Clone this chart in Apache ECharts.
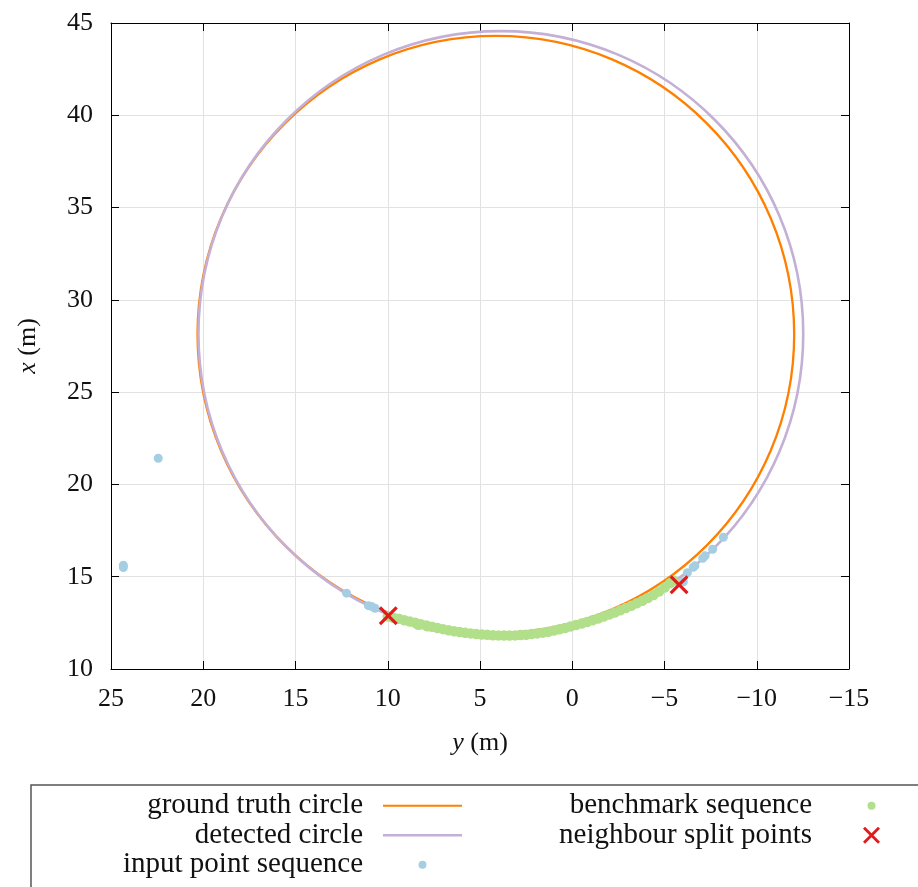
<!DOCTYPE html>
<html><head><meta charset="utf-8">
<script src="https://cdn.jsdelivr.net/npm/echarts@6/dist/echarts.min.js"></script>
<style>html,body{margin:0;padding:0;background:#fff}#c{width:918px;height:887px}</style>
</head><body><div id="c"></div>
<script>
// ---- data (y in m, x in m) ----
const seriesNames = ['ground truth circle', 'detected circle', 'input point sequence', 'benchmark sequence', 'neighbour split points'];
// circles: [center y, center x, radius]
const circleGroundTruth = [4.14, 28.13, 16.17];
const circleDetected = [3.87, 28.17, 16.39];

const inputY = [24.33, 24.33, 22.44, 12.23, 11.05, 10.87, 10.69, -6.02, -6.24, -6.56, -6.65, -7.07, -7.20, -7.61, -8.19];
const inputX = [15.50, 15.62, 21.42, 14.11, 13.43, 13.38, 13.29, 14.73, 15.22, 15.51, 15.59, 16.00, 16.13, 16.49, 17.14];

const benchY = [10.0, 9.7, 9.4, 9.1, 8.8, 8.5, 8.35, 8.2, 7.9, 7.85, 7.6, 7.3, 7.0, 6.7, 6.4, 6.1, 5.8, 5.5, 5.2, 4.9, 4.6, 4.3, 4.0, 3.7, 3.4, 3.1, 2.8, 2.5, 2.2, 1.9, 1.6, 1.3, 1.0, 0.7, 0.4, 0.1, -0.2, -0.5, -0.8, -1.1, -1.4, -1.7, -2.0, -2.3, -2.6, -2.9, -3.2, -3.5, -3.8, -4.1, -4.4, -4.7, -5.0, -5.3, -5.5];
const benchX = [12.85, 12.78, 12.72, 12.64, 12.57, 12.50, 12.40, 12.42, 12.36, 12.31, 12.29, 12.22, 12.16, 12.10, 12.05, 12.00, 11.96, 11.93, 11.90, 11.87, 11.85, 11.83, 11.82, 11.81, 11.81, 11.82, 11.84, 11.86, 11.89, 11.93, 11.97, 12.02, 12.08, 12.15, 12.22, 12.30, 12.38, 12.46, 12.55, 12.64, 12.74, 12.84, 12.95, 13.06, 13.18, 13.30, 13.43, 13.56, 13.70, 13.85, 14.01, 14.20, 14.42, 14.65, 14.78];

const splitY = [9.97, -5.79];
const splitX = [12.88, 14.56];

const xTickMin = -15, xTickMax = 25, xTickStep = 5;
const yTickMin = 10, yTickMax = 45, yTickStep = 5;

// ---- styles ----
const FONT = 'Liberation Serif';
const C_GT = '#ff7f00', C_DET = '#c5b0d5', C_IN = '#a6cee3', C_BENCH = '#b2df8a', C_SPLIT = '#e31a1c';
const CROSS = 'path://M-8,-6.1L-6.1,-8L0,-1.9L6.1,-8L8,-6.1L1.9,0L8,6.1L6.1,8L0,1.9L-6.1,8L-8,6.1L-1.9,0Z';
const ICON_GT = 'path://M0,0M94,18M15,7.9H94V10.1H15Z';
const ICON_DET = 'path://M0,0M94,18M15,7.7H94V10.3H15Z';
const ICON_DOT = 'path://M0,0M94,18M50.5,9A4,4 0 1,0 58.5,9A4,4 0 1,0 50.5,9Z';
const ICON_CROSS = 'path://M0,0M94,18M46,2.5L48,0.5L54.5,7L61,0.5L63,2.5L56.5,9L63,15.5L61,17.5L54.5,11L48,17.5L46,15.5L52.5,9Z';

const zip = (a, b) => a.map((v, i) => [v, b[i]]);
const fmt = v => (v < 0 ? '\u2212' + (-v) : '' + v);

function circleRenderer(color, width) {
  return function (params, api) {
    const c = api.coord([api.value(0), api.value(1)]);
    const s = api.size([api.value(2), api.value(2)]);
    return {
      type: 'ellipse',
      shape: { cx: c[0], cy: c[1], rx: s[0], ry: s[1] },
      style: { fill: 'none', stroke: color, lineWidth: width }
    };
  };
}

const axisCommon = {
  type: 'value',
  axisLine: { show: true, onZero: false, lineStyle: { color: '#000', width: 1 } },
  axisTick: { show: true, inside: true, length: 8, lineStyle: { color: '#000', width: 1 } },
  minorTick: { show: false }
};
const labelStyle = { fontFamily: FONT, fontSize: 26, color: '#111' };
const nameStyle = { fontFamily: FONT, fontSize: 26, color: '#111', rich: { i: { fontFamily: FONT, fontSize: 26, fontStyle: 'italic', color: '#111' } } };

const chart = echarts.init(document.getElementById('c'), null, { renderer: 'canvas' });
chart.setOption({
  animation: false,
  backgroundColor: '#fff',
  grid: { left: 111, right: 69, top: 23, bottom: 218, containLabel: false },
  xAxis: [
    Object.assign({}, axisCommon, {
      position: 'bottom', min: xTickMin, max: xTickMax, interval: xTickStep, inverse: true,
      axisLabel: Object.assign({ margin: 17, formatter: fmt }, labelStyle),
      splitLine: { show: true, lineStyle: { color: '#e2e2e2', width: 1 } },
      name: '{i|y} (m)', nameLocation: 'middle', nameGap: 61, nameTextStyle: nameStyle
    }),
    Object.assign({}, axisCommon, {
      position: 'top', min: xTickMin, max: xTickMax, interval: xTickStep, inverse: true,
      axisLabel: { show: false }, splitLine: { show: false }
    })
  ],
  yAxis: [
    Object.assign({}, axisCommon, {
      position: 'left', min: yTickMin, max: yTickMax, interval: yTickStep,
      axisLabel: Object.assign({ margin: 18, formatter: fmt }, labelStyle),
      splitLine: { show: true, lineStyle: { color: '#e2e2e2', width: 1 } },
      name: '{i|x} (m)', nameLocation: 'middle', nameRotate: 90, nameGap: 70, nameTextStyle: nameStyle
    }),
    Object.assign({}, axisCommon, {
      position: 'right', min: yTickMin, max: yTickMax, interval: yTickStep,
      axisLabel: { show: false }, splitLine: { show: false }
    })
  ],
  legend: [
    {
      orient: 'vertical', align: 'right', right: 456, top: 791, padding: 0, itemGap: 0,
      itemWidth: 94, itemHeight: 18, selectedMode: false,
      textStyle: { fontFamily: FONT, fontSize: 29, lineHeight: 29.5, color: '#111' },
      data: [
        { name: seriesNames[0], icon: ICON_GT, itemStyle: { color: C_GT } },
        { name: seriesNames[1], icon: ICON_DET, itemStyle: { color: C_DET } },
        { name: seriesNames[2], icon: ICON_DOT, itemStyle: { color: C_IN } }
      ]
    },
    {
      orient: 'vertical', align: 'right', right: 7, top: 791, padding: 0, itemGap: 0,
      itemWidth: 94, itemHeight: 18, selectedMode: false,
      textStyle: { fontFamily: FONT, fontSize: 29, lineHeight: 29.5, color: '#111' },
      data: [
        { name: seriesNames[3], icon: ICON_DOT, itemStyle: { color: C_BENCH } },
        { name: seriesNames[4], icon: ICON_CROSS, itemStyle: { color: C_SPLIT } }
      ]
    }
  ],
  graphic: [{
    type: 'rect', silent: true,
    shape: { x: 31, y: 785, width: 1000, height: 200 },
    style: { fill: 'none', stroke: '#555', lineWidth: 1.5 }
  }],
  series: [
    { name: seriesNames[0], type: 'custom', clip: false, itemStyle: { color: C_GT },
      encode: { x: 0, y: 1 }, data: [circleGroundTruth], renderItem: circleRenderer(C_GT, 2.3) },
    { name: seriesNames[1], type: 'custom', clip: false, itemStyle: { color: C_DET },
      encode: { x: 0, y: 1 }, data: [circleDetected], renderItem: circleRenderer(C_DET, 2.6) },
    { name: seriesNames[2], type: 'scatter', symbol: 'circle', symbolSize: 9,
      itemStyle: { color: C_IN, opacity: 1 }, data: zip(inputY, inputX) },
    { name: seriesNames[3], type: 'scatter', symbol: 'circle', symbolSize: 10.5,
      itemStyle: { color: C_BENCH, opacity: 1 }, data: zip(benchY, benchX) },
    { name: seriesNames[4], type: 'scatter', symbol: CROSS, symbolSize: 19,
      itemStyle: { color: C_SPLIT, opacity: 1 }, data: zip(splitY, splitX) }
  ]
});
</script>
</body></html>
